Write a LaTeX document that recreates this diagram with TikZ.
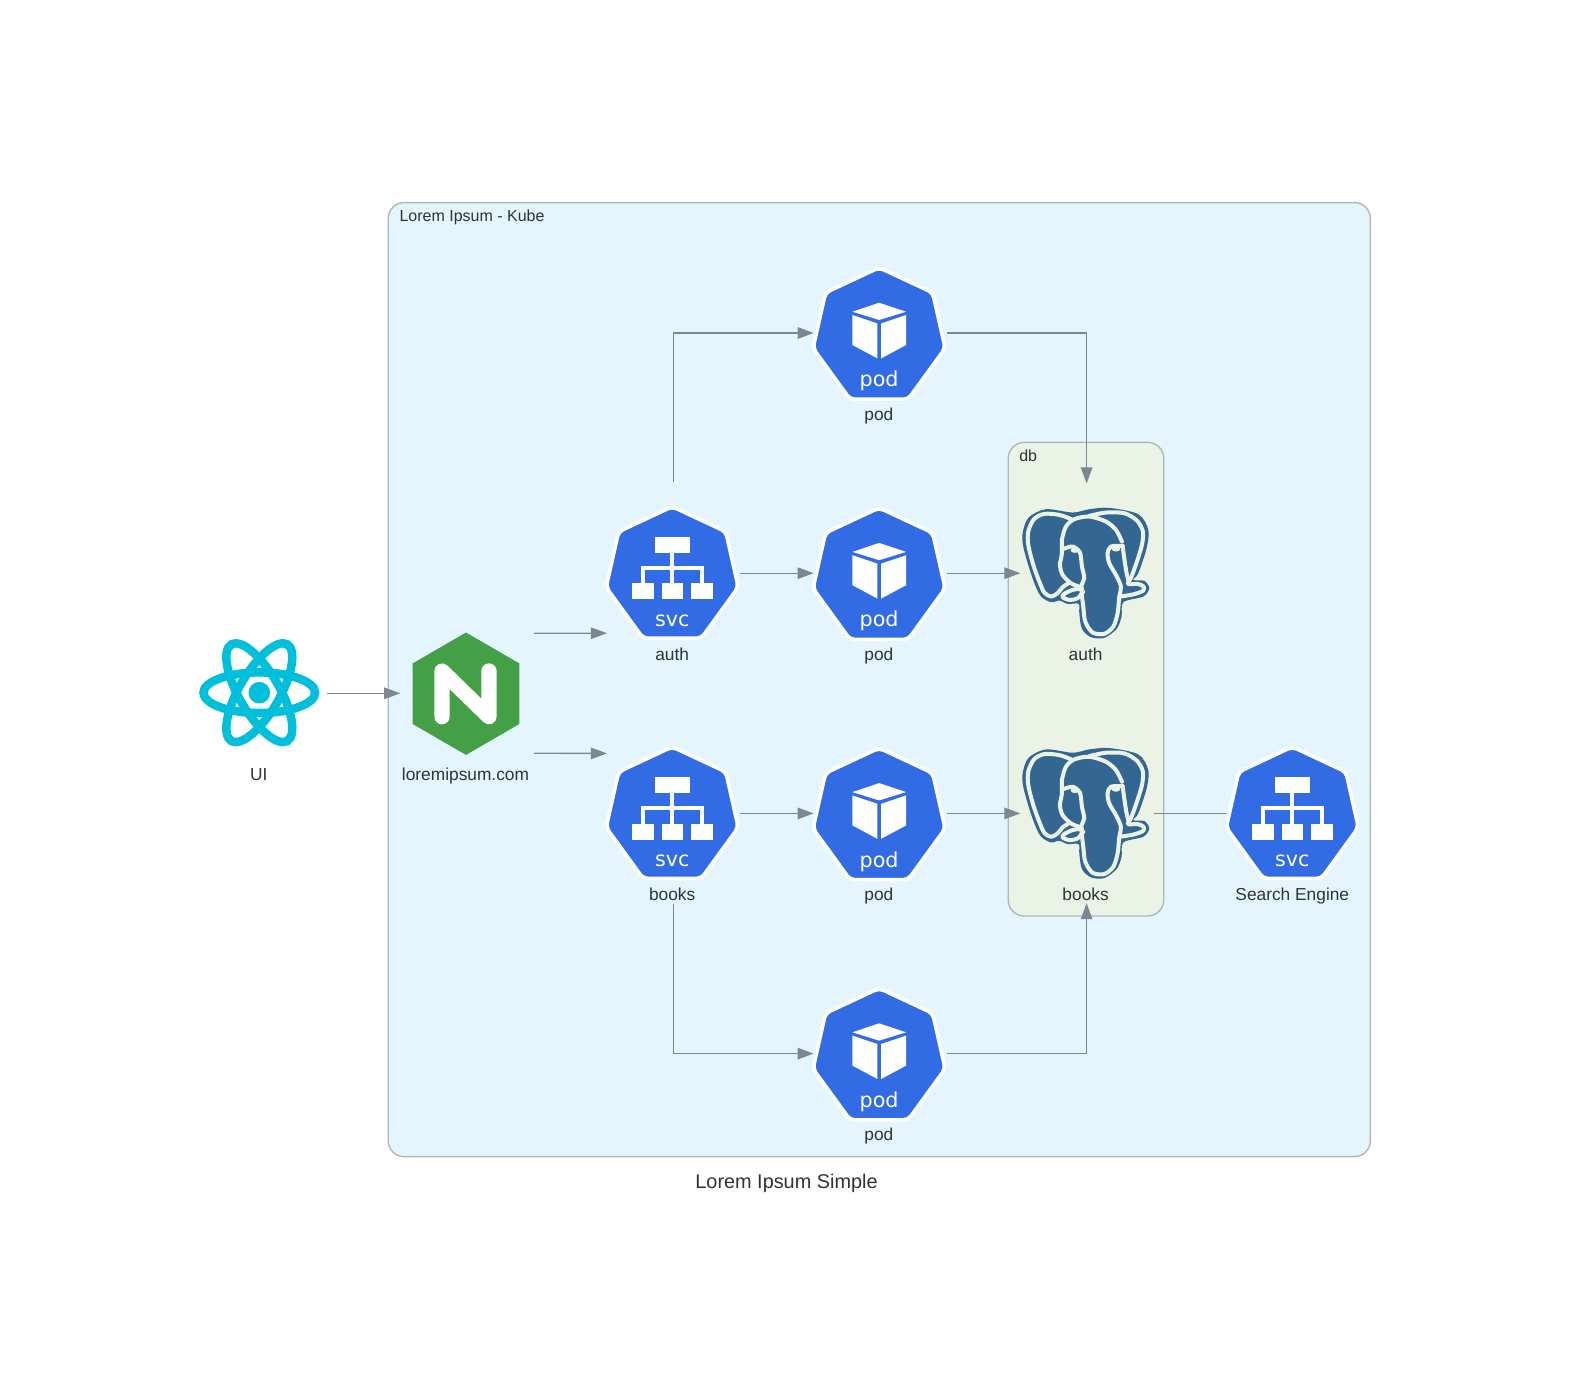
\documentclass[tikz,border=0pt]{standalone}
\usepackage{fontspec}
\setmainfont{Liberation Sans}
\newfontfamily\kubefont{DejaVu Sans}
\usetikzlibrary{arrows.meta}
\definecolor{kubebg}{HTML}{E5F5FD}
\definecolor{dbbg}{HTML}{EBF3E7}
\definecolor{clusterline}{HTML}{AEB6BE}
\definecolor{edgegray}{HTML}{7B8894}
\definecolor{inkgray}{HTML}{2D3436}
\definecolor{kubeblue}{HTML}{326CE5}
\definecolor{pgblue}{HTML}{336791}
\definecolor{nginxgreen}{HTML}{43A047}
\definecolor{reactcyan}{HTML}{00BFDA}
\def\px{0.75pt}
\tikzset{
  conn/.style={draw=edgegray, line width=1.3*\px, shorten >=-1*\px, -{Triangle[length=16*\px,width=11.5*\px]}},
  connplain/.style={draw=edgegray, line width=1.3*\px},
  cluster/.style={draw=clusterline, line width=1.4*\px, rounded corners=12pt, inner sep=0pt},
  clustertext/.style={text=inkgray, font=\fontsize{12}{15}\selectfont, inner sep=0pt, anchor=west, text height=9pt, text depth=2.5pt},
  nodebox/.style={minimum width=134*\px, minimum height=181*\px, inner sep=0pt},
  caption/.style={text=inkgray, font=\fontsize{13}{16}\selectfont, inner sep=0pt, text height=10pt, text depth=3pt, yshift=-82.6*\px, xshift=-1*\px},
  kubeglyph/.style={text=white, font=\kubefont\fontsize{15.5}{18}\selectfont, inner sep=0pt, anchor=base},
  pics/hepta/.style={code={
    \draw[fill=kubeblue, draw=white, line width=3.5*\px, rounded corners=3.5pt, line join=round]
      (0,-66) -- (53.5,-41) -- (66,14.5) -- (29,65.5) -- (-29,65.5) -- (-66,14.5) -- (-53.5,-41) -- cycle;
  }},
  pics/podicon/.style={code={
    \begin{scope}[shift={(-0.8,0.7)}]
      \pic {hepta};
      \fill[white] (0,-31) -- (27,-22) -- (0,-13.7) -- (-26.7,-22) -- cycle;
      \fill[white] (-26.7,-18.7) -- (-1.7,-10.3) -- (-1.7,24.7) -- (-26.7,11.3) -- cycle;
      \fill[white] (2,-10.3) -- (27,-18.7) -- (27,11.3) -- (2,24.7) -- cycle;
      \node[kubeglyph] (-tag) at (0,53) {pod};
    \end{scope}
  }},
  pics/svcicon/.style={code={
    \begin{scope}[shift={(-1,-0.5)}]
      \pic {hepta};
      \fill[white] (-17,-35.7) rectangle (17.3,-20);
      \fill[white] (-31.3,-6.7) rectangle (31.7,-3);
      \fill[white] (-2,-20) rectangle (2,10.7);
      \fill[white] (-31.3,-6.7) rectangle (-27.3,10.7);
      \fill[white] (27.7,-6.7) rectangle (31.7,10.7);
      \fill[white] (-40.3,10.7) rectangle (-18.3,26.7);
      \fill[white] (-10.7,10.7) rectangle (11,26.7);
      \fill[white] (19,10.7) rectangle (40.7,26.7);
      \node[kubeglyph] (-tag) at (0,54) {svc};
    \end{scope}
  }},
  % elephant traced in thirds of a pixel around its middle
  pics/pgicon/.style={code={
    \begin{scope}[x=0.25pt, y=-0.25pt, shift={(-232,-250)}]
      \fill[pgblue] plot[smooth cycle, tension=0.5] coordinates {(110,58) (190,68) (240,58) (300,54) (387,73) (417,120) (412,175) (387,250) (372,270) (405,273) (420,295) (402,320) (342,337) (337,380) (322,417) (285,444) (245,442) (218,417) (210,370) (208,342) (175,342) (150,332) (125,337) (93,317) (68,260) (43,175) (40,130) (58,83)};
      \begin{scope}[draw=dbbg, line width=3pt, line cap=round, line join=round]
        \draw plot[smooth, tension=0.5] coordinates {(186,88) (150,75) (105,72) (74,88) (57,125) (57,165) (72,225) (90,275) (105,308) (125,320) (145,310) (160,292) (178,280)};
        \draw plot[smooth, tension=0.5] coordinates {(338,155) (320,120) (290,95) (240,80) (195,88) (170,110) (158,150) (158,190) (152,225) (160,255) (185,280) (215,292)};
        \draw plot[smooth, tension=0.5] coordinates {(240,78) (290,68) (345,70) (383,92) (401,125) (398,165) (383,215) (366,262) (356,282) (385,282) (403,290) (401,303) (370,314) (332,320)};
        \draw plot[smooth, tension=0.5] coordinates {(160,178) (190,170) (212,188) (218,230) (225,265) (216,292) (222,350) (228,395) (250,428) (285,432) (312,410) (325,370) (330,320) (335,290) (320,255) (300,220) (295,190) (305,170) (340,168)};
        \draw plot[smooth, tension=0.5] coordinates {(340,168) (345,205) (352,250) (360,280)};
        \draw plot[smooth, tension=0.5] coordinates {(218,296) (190,300) (165,312) (160,322) (180,330) (205,325) (222,305)};
      \end{scope}
      \fill[dbbg] (197,181) ellipse (13 and 8);
      \fill[dbbg] (320,177) ellipse (13 and 8);
    \end{scope}
  }},
  pics/reacticon/.style={code={
    \begin{scope}[shift={(-0.5,-0.6)}]
      \fill[reactcyan] (0,0) circle (10.8);
      \foreach \tilt in {0,60,120}
        \draw[reactcyan, line width=8.5*\px, rotate=\tilt] (0,0) ellipse (55.8 and 20.3);
    \end{scope}
  }},
  pics/nginxicon/.style={code={
    \begin{scope}[shift={(-0.5,0.4)}]
      \fill[nginxgreen] (0,-61.2) -- (53.3,-30.3) -- (53.3,30.3) -- (0,61.2) -- (-53.3,30.3) -- (-53.3,-30.3) -- cycle;
      \draw[white, line width=15.3*\px, line cap=round, line join=round] (-24,23) -- (-24,-22.7) -- (23,23) -- (23,-22.7);
    \end{scope}
  }}
}
\begin{document}
\begin{tikzpicture}[x=0.75pt, y=-0.75pt]
  \useasboundingbox (0,0) rectangle (1573,1392);
  % clusters
  \node[cluster, fill=kubebg, minimum width=982.2*\px, minimum height=954.1*\px] (kube) at (879.3,679.6) {};
  \node[clustertext] (kubetitle) at (399.3,217) {Lorem Ipsum - Kube};
  \node[cluster, fill=dbbg, minimum width=155.5*\px, minimum height=473.6*\px] (db) at (1086,679.2) {};
  \node[clustertext] (dbtitle) at (1019,457.4) {db};
  % outside of the clusters
  \node[nodebox, label={[caption]center:UI}] (ui) at (259.8,693.3) {};
  \node[text=inkgray, font=\fontsize{14.9}{18}\selectfont, inner sep=0pt] (title) at (786.5,1183.5) {Lorem Ipsum Simple};
  % kube nodes
  \node[nodebox, label={[caption]center:loremipsum.com}] (nginx) at (466.5,693.3) {};
  \node[nodebox, label={[caption]center:auth}] (svcauth) at (673.2,573.2) {};
  \node[nodebox, label={[caption]center:books}] (svcbooks) at (673.2,813.4) {};
  \node[nodebox, label={[caption]center:pod}] (podtop) at (879.9,333) {};
  \node[nodebox, label={[caption]center:pod}] (podauth) at (879.9,573.2) {};
  \node[nodebox, label={[caption]center:pod}] (podbooks) at (879.9,813.4) {};
  \node[nodebox, label={[caption]center:pod}] (podlow) at (879.9,1053.6) {};
  \node[nodebox, label={[caption]center:auth}] (pgauth) at (1086.6,573.2) {};
  \node[nodebox, label={[caption]center:books}] (pgbooks) at (1086.6,813.4) {};
  \node[nodebox, label={[caption]center:Search Engine}] (svcsearch) at (1293.3,813.4) {};
  % icons
  \pic at (ui) {reacticon};
  \pic at (nginx) {nginxicon};
  \pic (svcauthicon) at (svcauth) {svcicon};
  \pic (svcbooksicon) at (svcbooks) {svcicon};
  \pic (svcsearchicon) at (svcsearch) {svcicon};
  \pic (podtopicon) at (podtop) {podicon};
  \pic (podauthicon) at (podauth) {podicon};
  \pic (podbooksicon) at (podbooks) {podicon};
  \pic (podlowicon) at (podlow) {podicon};
  \pic at (pgauth) {pgicon};
  \pic at (pgbooks) {pgicon};
  % connectors
  \draw[conn] (ui) -- (nginx);
  \draw[conn] ([yshift=60*\px]nginx.east) -- ([yshift=-60*\px]svcauth.west);
  \draw[conn] ([yshift=-60*\px]nginx.east) -- ([yshift=60*\px]svcbooks.west);
  \draw[conn] (svcauth.north) |- (podtop.west);
  \draw[conn] (svcauth) -- (podauth);
  \draw[conn] (svcbooks) -- (podbooks);
  \draw[conn] (svcbooks.south) |- (podlow.west);
  \draw[conn] (podtop.east) -| (pgauth.north);
  \draw[conn] (podauth) -- (pgauth);
  \draw[conn] (podbooks) -- (pgbooks);
  \draw[conn] (podlow.east) -| (pgbooks.south);
  \draw[connplain] (pgbooks) -- (svcsearch);
\end{tikzpicture}
\end{document}
